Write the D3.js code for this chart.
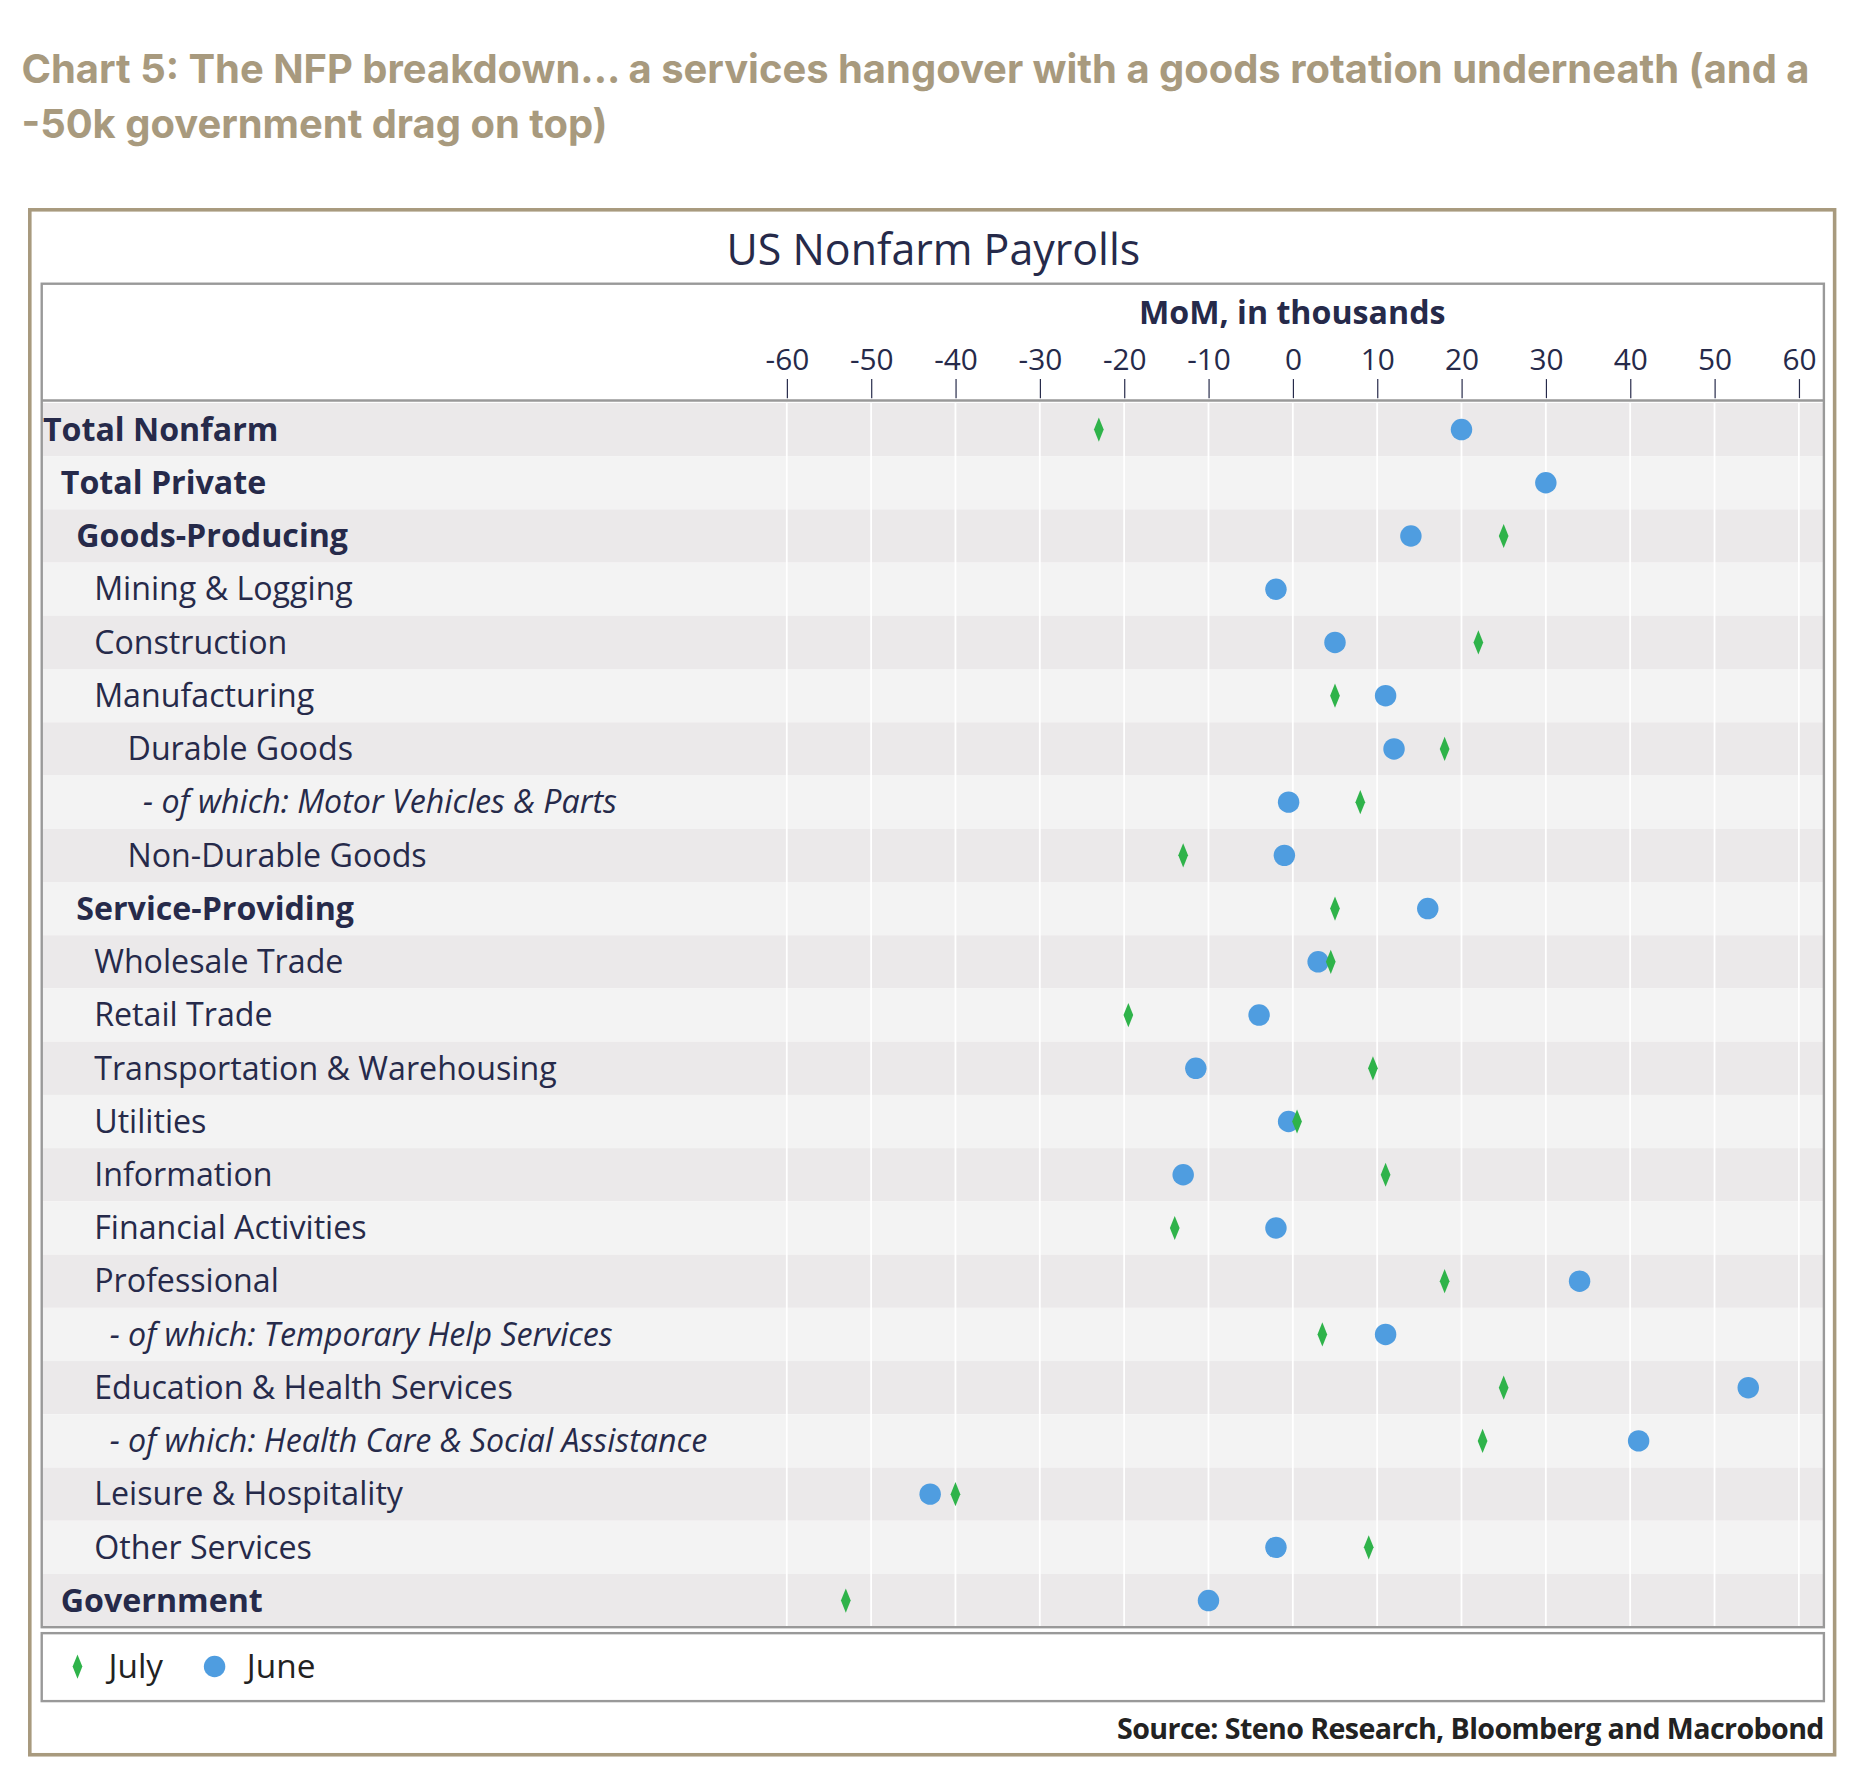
<!DOCTYPE html>
<html><head><meta charset="utf-8">
<script src="https://cdn.jsdelivr.net/npm/d3@7"></script>
<style>body{margin:0;background:#fff}</style>
</head><body>
<div id="chart"></div>
<script>
// rows, top to bottom
var categories = ["Total Nonfarm","Total Private","Goods-Producing","Mining & Logging","Construction","Manufacturing","Durable Goods","- of which: Motor Vehicles & Parts","Non-Durable Goods","Service-Providing","Wholesale Trade","Retail Trade","Transportation & Warehousing","Utilities","Information","Financial Activities","Professional","- of which: Temporary Help Services","Education & Health Services","- of which: Health Care & Social Assistance","Leisure & Hospitality","Other Services","Government"];
var levels = [0,1,2,3,3,3,4,5,4,2,3,3,3,3,3,3,3,6,3,6,3,3,1];
var boldRows = [1,1,1,0,0,0,0,0,0,1,0,0,0,0,0,0,0,0,0,0,0,0,1];
var italicRows = [0,0,0,0,0,0,0,1,0,0,0,0,0,0,0,0,0,1,0,1,0,0,0];
var july = [-23,null,25,null,22,5,18,8,-13,5,4.5,-19.5,9.5,0.5,11,-14,18,3.5,25,22.5,-40,9,-53];
var june = [20,30,14,-2,5,11,12,-0.5,-1,16,3,-4,-11.5,-0.5,-13,-2,34,11,54,41,-43,-2,-10];
var ticks = [-60,-50,-40,-30,-20,-10,0,10,20,30,40,50,60];

var k = 1868/1567;
var svg = d3.select("#chart").append("svg").attr("width",1868).attr("height",1780);
var g = svg.append("g").attr("transform","scale("+k+")");
var ink = "#262a4a", font = "'Open Sans', 'Noto Sans', sans-serif";
var green = "#2fb34a", blue = "#4f9de0";

g.append("text").attr("x",18).attr("y",70).attr("font-family","Inter, Lato, sans-serif")
  .attr("font-weight",700).attr("font-size",33.5).attr("fill","#a89a7e")
  .text("Chart 5: The NFP breakdown... a services hangover with a goods rotation underneath (and a");
g.append("text").attr("x",18).attr("y",116).attr("font-family","Inter, Lato, sans-serif")
  .attr("font-weight",700).attr("font-size",33.5).attr("fill","#a89a7e")
  .text("-50k government drag on top)");

// frames
g.append("rect").attr("x",25).attr("y",176).attr("width",1514).attr("height",1296)
  .attr("fill","#fff").attr("stroke","#a89a7e").attr("stroke-width",3);
g.append("text").attr("x",783).attr("y",222).attr("text-anchor","middle").attr("font-family",font)
  .attr("font-size",36).attr("fill",ink).text("US Nonfarm Payrolls");

var y = d3.scaleBand().domain(categories).range([338,1365]);
var x = d3.scaleLinear().domain([-60,60]).range([660,1509]);
var cy = i => y(categories[i]) + y.bandwidth()/2;

y.domain().forEach(function(c,i){
  g.append("rect").attr("x",35).attr("y",y(c)).attr("width",1495).attr("height",y.bandwidth())
    .attr("fill", i%2==0 ? "#ebe9ea" : "#f3f3f3");
});
g.append("g").selectAll("line").data(ticks).enter().append("line")
  .attr("x1",d=>x(d)).attr("x2",d=>x(d)).attr("y1",338).attr("y2",1365)
  .attr("stroke","#fff").attr("stroke-width",1.5);

g.append("rect").attr("x",35).attr("y",238).attr("width",1495).attr("height",1127)
  .attr("fill","none").attr("stroke","#999").attr("stroke-width",2);
g.append("line").attr("x1",35).attr("x2",1530).attr("y1",336).attr("y2",336).attr("stroke","#999").attr("stroke-width",2);

g.append("text").attr("x",1084).attr("y",272).attr("text-anchor","middle").attr("font-family",font)
  .attr("font-weight",700).attr("font-size",27).attr("fill",ink).text("MoM, in thousands");

var ax = g.append("g").attr("transform","translate(0,334)")
  .call(d3.axisTop(x).tickValues(ticks).tickSize(16).tickPadding(8).tickFormat(d3.format("d")));
ax.select(".domain").remove();
ax.selectAll("line").attr("stroke",ink);
ax.selectAll("text").attr("font-family",font).attr("font-size",25).attr("fill",ink).text(d=>d<0?"-"+Math.abs(d):d);

var indent = [36,51,64,79,107,120,92];
g.append("g").selectAll("text").data(categories).enter().append("text")
  .attr("x",(d,i)=>indent[levels[i]]).attr("y",d=>y(d)+y.bandwidth()/2).attr("dy","0.35em")
  .attr("font-family",font).attr("font-size",27).attr("fill",ink)
  .attr("font-weight",(d,i)=>boldRows[i]?700:400)
  .attr("font-style",(d,i)=>italicRows[i]?"italic":"normal")
  .text(d=>d);

var diamond = d3.symbol().type(d3.symbolDiamond).size(90);
var juneG = g.append("g"), julyG = g.append("g");
june.forEach(function(v,i){
  if (v==null) return;
  juneG.append("circle").attr("cx",x(v)).attr("cy",cy(i)).attr("r",9).attr("fill",blue);
});
july.forEach(function(v,i){
  if (v==null) return;
  julyG.append("path").attr("d",diamond)
    .attr("transform","translate("+x(v)+","+cy(i)+") scale(0.8,1.15)").attr("fill",green);
});

// legend
g.append("rect").attr("x",35).attr("y",1370).attr("width",1495).attr("height",57)
  .attr("fill","#fff").attr("stroke","#999").attr("stroke-width",2);
g.append("path").attr("d",diamond).attr("transform","translate(65,1398) scale(0.8,1.15)").attr("fill",green);
g.append("text").attr("x",91).attr("y",1398).attr("dy","0.35em").attr("font-family",font)
  .attr("font-size",28).attr("fill","#222").text("July");
g.append("circle").attr("cx",180).attr("cy",1398).attr("r",9).attr("fill",blue);
g.append("text").attr("x",207).attr("y",1398).attr("dy","0.35em").attr("font-family",font)
  .attr("font-size",28).attr("fill","#222").text("June");

g.append("text").attr("x",1530).attr("y",1450).attr("dy","0.35em").attr("text-anchor","end")
  .attr("font-family",font).attr("font-weight",700).attr("font-size",24).attr("letter-spacing",-0.5)
  .attr("fill","#222").text("Source: Steno Research, Bloomberg and Macrobond");
</script>
</body></html>
